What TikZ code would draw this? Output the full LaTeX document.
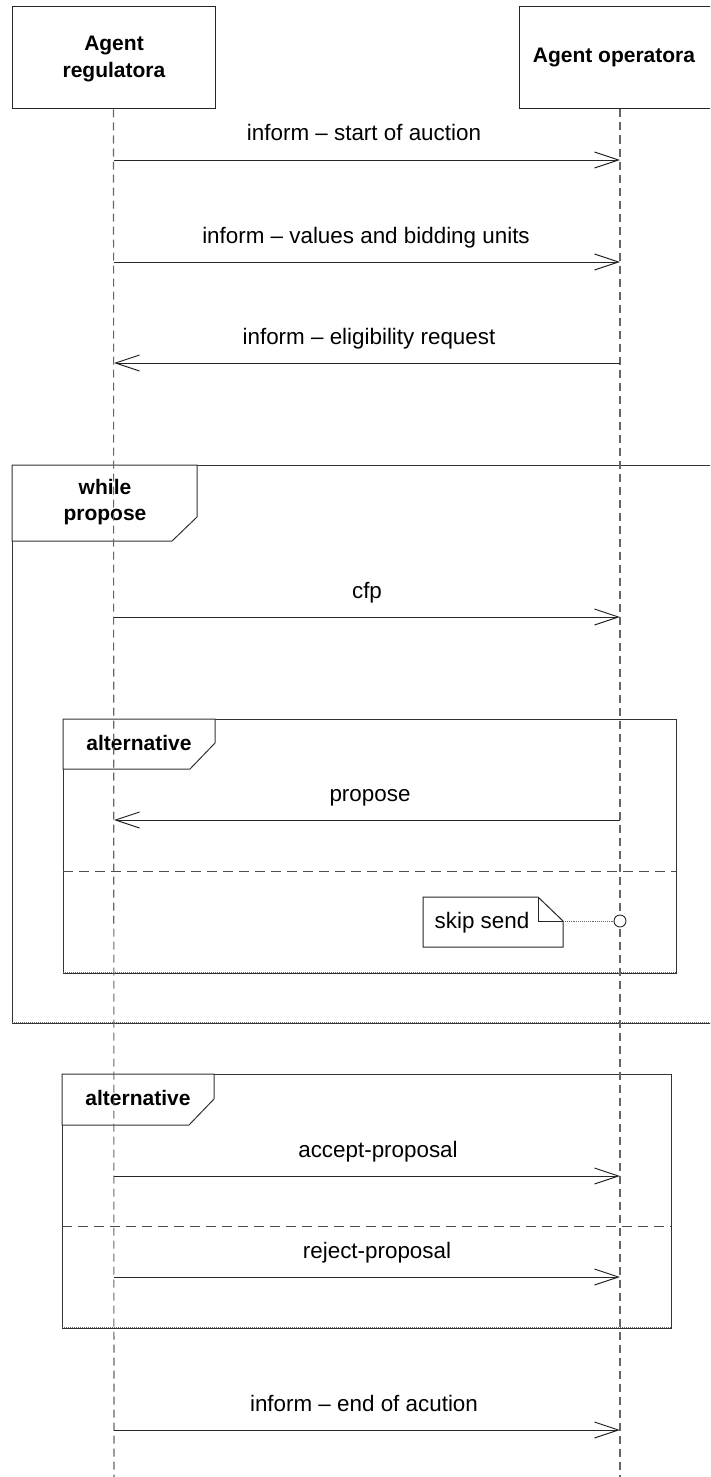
\documentclass[tikz,border=0pt]{standalone}
\usepackage{fontspec}
\setmainfont{Liberation Sans}
\usetikzlibrary{arrows.meta}
\begin{document}
\begin{tikzpicture}[x=1pt,y=-1pt,
  lifeline/.style={draw=black!60, line width=1.1pt, dash pattern=on 8pt off 5pt},
  msg/.style={draw=black!85, line width=1pt, -{Straight Barb[length=24pt,width=16pt]}},
  msglabel/.style={font=\fontsize{22.4}{27}\selectfont, anchor=base, inner sep=0pt},
  boldlabel/.style={font=\fontsize{21}{26.5}\selectfont\bfseries, align=center, inner sep=0pt},
  headbox/.style={draw=black!85, line width=1pt, fill=white, minimum height=102pt, inner sep=0pt},
  frameline/.style={draw=black!80, line width=1pt},
  framehead/.style={draw=black!80, line width=1pt, fill=white},
  framebase/.style={draw=black!60, line width=1pt, densely dotted},
  divider/.style={draw=black!70, line width=1pt, dash pattern=on 10pt off 6pt},
  notebox/.style={draw=black!85, line width=1pt, fill=white},
  anchorline/.style={draw=black!60, line width=0.9pt, densely dotted}
]
\useasboundingbox (0,0) rectangle (710,1477);
\clip (0,0) rectangle (710,1477);

% participant heads
\node[headbox, minimum width=203pt] (reg) at (113.5,58) {};
\node[boldlabel] (regtext) at (114,59) {Agent\\regulatora};
\node[headbox, minimum width=202pt] (opr) at (620,58) {};
\node[boldlabel] (oprtext) at (614,58) {Agent operatora};

% loop frame
\draw[frameline] (12,1023) -- (12,465) -- (722,465);
\draw[frameline] (12,1023) -- (722,1023);
\draw[framebase] (12,1022) -- (722,1022);
\draw[framehead] (12,465) -- (197,465) -- (197,517) -- (172,541) -- (12,541) -- cycle;
\node[boldlabel] (whiletext) at (105,502) {while\\propose};

% first alternative frame
\draw[frameline] (63,719) rectangle (676,973);
\draw[framebase] (63,972) -- (676,972);
\draw[framehead] (63,719) -- (215,719) -- (215,743) -- (190,769) -- (63,769) -- cycle;
\node[boldlabel] (alttext1) at (139,743) {alternative};
\draw[divider] (63,871) -- (676,871);

% second alternative frame
\draw[frameline] (62,1074) rectangle (671,1328);
\draw[framebase] (62,1327) -- (671,1327);
\draw[framehead] (62,1074) -- (214,1074) -- (214,1099) -- (189,1125) -- (62,1125) -- cycle;
\node[boldlabel] (alttext2) at (138,1098) {alternative};
\draw[divider] (62,1226) -- (671,1226);

% lifelines
\coordinate (regend) at (114,1477);
\coordinate (oprend) at (620,1477);
\draw[lifeline] (reg.south) -- (regend);
\draw[lifeline] (opr.south) -- (oprend);

% message end points
\foreach \n/\y in {m1/160, m2/262, m3/363, m4/617, m5/820, m6/1176, m7/1277, m8/1430}{
  \coordinate (\n r) at (114,\y);
  \coordinate (\n o) at (620,\y);
}

% messages
\draw[msg] (m1r) -- (m1o);
\node[msglabel] (l1) at (364,141) {inform – start of auction};
\draw[msg] (m2r) -- (m2o);
\node[msglabel] (l2) at (366,243) {inform – values and bidding units};
\draw[msg] (m3o) -- (m3r);
\node[msglabel] (l3) at (369,344) {inform – eligibility request};
\draw[msg] (m4r) -- (m4o);
\node[msglabel] (l4) at (367,598) {cfp};
\draw[msg] (m5o) -- (m5r);
\node[msglabel] (l5) at (370,801) {propose};
\draw[msg] (m6r) -- (m6o);
\node[msglabel] (l6) at (378,1157) {accept-proposal};
\draw[msg] (m7r) -- (m7o);
\node[msglabel] (l7) at (377,1258) {reject-proposal};
\draw[msg] (m8r) -- (m8o);
\node[msglabel] (l8) at (364,1411) {inform – end of acution};

% note with its anchor on the operator lifeline
\draw[notebox] (423,897) -- (538,897) -- (563,921) -- (563,947) -- (423,947) -- cycle;
\draw[draw=black!85, line width=1pt] (538,897) -- (538,921) -- (563,921);
\coordinate (notept) at (563,921);
\node[msglabel] (notetext) at (482,928) {skip send};
\node[circle, draw=black!85, line width=0.9pt, fill=white, minimum size=12pt, inner sep=0pt] (skipdot) at (620,921) {};
\draw[anchorline] (notept) -- (skipdot.west);
\end{tikzpicture}
\end{document}
